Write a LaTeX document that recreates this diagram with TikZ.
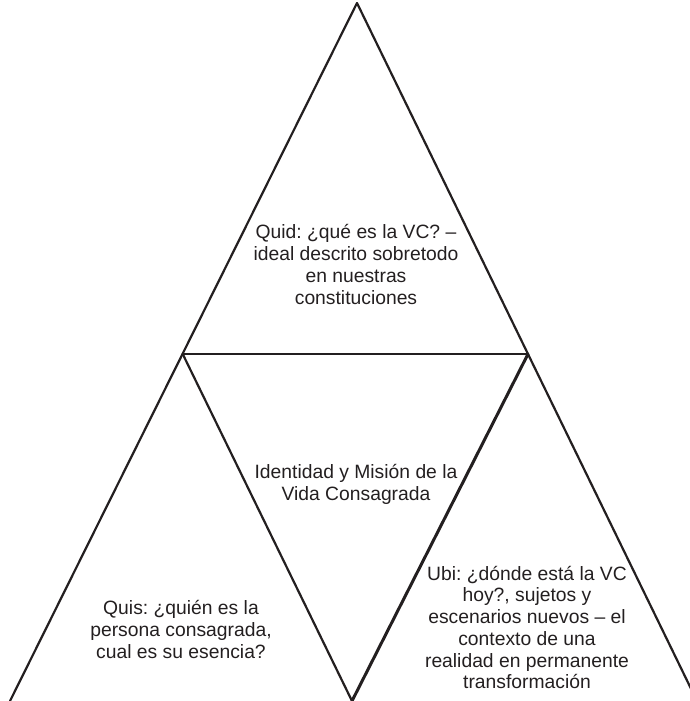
\documentclass[tikz,border=0pt]{standalone}
\usepackage{fontspec}
\setmainfont{Liberation Sans}
\frenchspacing
\definecolor{ink}{HTML}{231F20}
\begin{document}
\begin{tikzpicture}[x=1pt,y=-1pt,
  edge/.style={draw=ink,line width=2.2pt,line cap=round,line join=miter},
  label/.style={text=ink,align=center,font=\fontsize{19.3}{21.7}\selectfont,inner sep=0pt}]
\useasboundingbox (0,0) rectangle (690,701);
\clip (0,0) rectangle (690,701);
\coordinate (A) at (357,3);
\coordinate (L) at (182.7,354);
\coordinate (R) at (528,354);
\coordinate (BL) at (10,701);
\coordinate (BR) at (697,701);
\coordinate (V) at (352,701);
\draw[edge] (A) -- (BL);
\draw[edge] (A) -- (BR);
\draw[edge,line width=2.6pt] (L) -- (R);
\draw[edge] (L) -- (V);
\draw[edge,line width=3pt] (R) -- (V);
\node[label] (quid) at (356,264.5) {Quid: ¿qué es la VC? –\\ideal descrito sobretodo\\en nuestras\\constituciones};
\node[label] (ident) at (356,484.5) {Identidad y Misión de la\\Vida Consagrada};
\node[label] (quis) at (181,629.5) {Quis: ¿quién es la\\persona consagrada,\\cual es su esencia?};
\node[label] (ubi) at (527,627.5) {Ubi: ¿dónde está la VC\\hoy?, sujetos y\\escenarios nuevos – el\\contexto de una\\realidad en permanente\\transformación};
\end{tikzpicture}
\end{document}
